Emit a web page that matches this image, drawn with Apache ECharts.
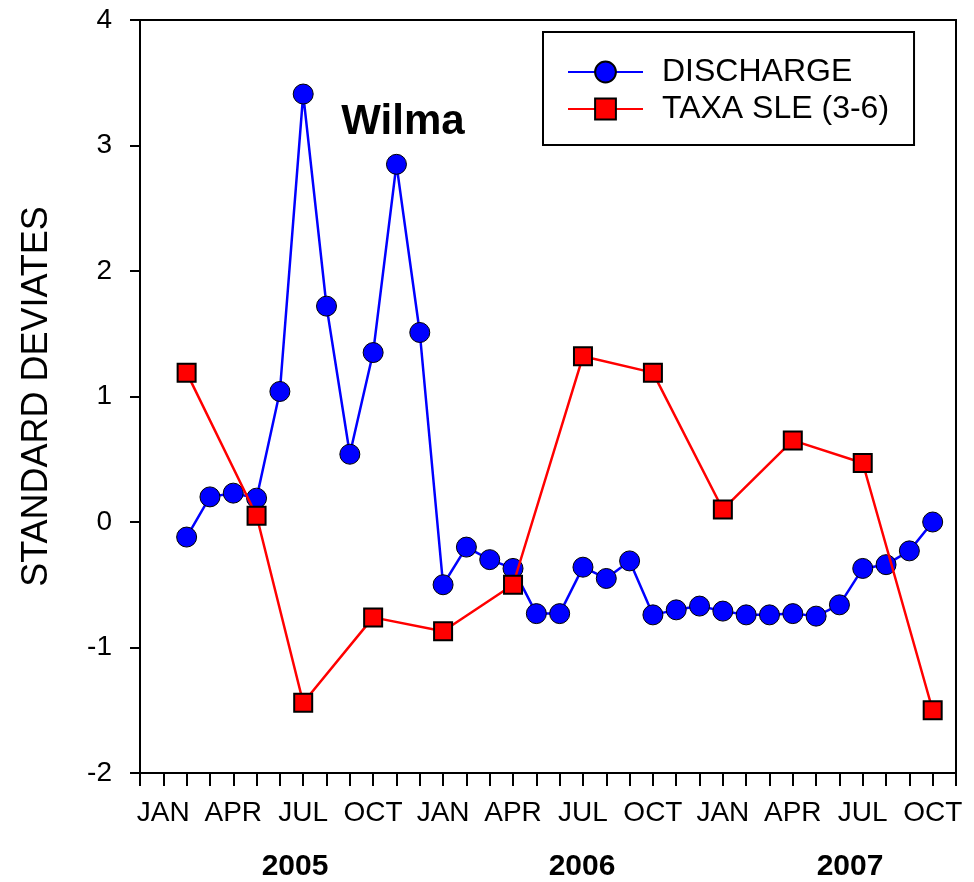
<!DOCTYPE html>
<html>
<head>
<meta charset="utf-8">
<script src="https://cdn.jsdelivr.net/npm/echarts@6/dist/echarts.min.js"></script>
<style>
  html, body { margin: 0; padding: 0; background: #fff; }
  #chart { width: 974px; height: 882px; }
</style>
</head>
<body>
<div id="chart"></div>
<script>
// Months on the axis: Dec 2004 .. Nov 2007
const categories = [
  '2004-12',
  '2005-01','2005-02','2005-03','2005-04','2005-05','2005-06','2005-07','2005-08','2005-09','2005-10','2005-11','2005-12',
  '2006-01','2006-02','2006-03','2006-04','2006-05','2006-06','2006-07','2006-08','2006-09','2006-10','2006-11','2006-12',
  '2007-01','2007-02','2007-03','2007-04','2007-05','2007-06','2007-07','2007-08','2007-09','2007-10','2007-11'
];
const monthTickLabels = { '01': 'JAN', '04': 'APR', '07': 'JUL', '10': 'OCT' };
const yearLabels = ['2005', '2006', '2007'];
const annotationText = 'Wilma';

// Standard deviates (null = no sample)
const discharge = [
  null,
  null, -0.12, 0.20, 0.23, 0.19, 1.04, 3.41, 1.72, 0.54, 1.35, 2.85, 1.51,
  -0.50, -0.20, -0.30, -0.37, -0.73, -0.73, -0.36, -0.45, -0.31, -0.74, -0.70, -0.67,
  -0.71, -0.74, -0.74, -0.73, -0.75, -0.66, -0.37, -0.34, -0.23, 0.00,
  null
];
const taxaSLE = [
  null,
  null, 1.19, null, null, 0.05, null, -1.44, null, null, -0.76, null, null,
  -0.87, null, null, -0.50, null, null, 1.32, null, null, 1.19, null, null,
  0.10, null, null, 0.65, null, null, 0.47, null, null, -1.50,
  null
];

const FONT = "'Liberation Sans', Arial, sans-serif";
const chart = echarts.init(document.getElementById('chart'), null, { renderer: 'canvas' });

chart.setOption({
  animation: false,
  backgroundColor: '#ffffff',
  grid: {
    left: 140, right: 18, top: 20, bottom: 109,
    show: true, borderColor: '#000', borderWidth: 2, backgroundColor: 'transparent'
  },
  legend: {
    orient: 'vertical',
    left: 543, top: 32,
    borderColor: '#000', borderWidth: 2, borderRadius: 0,
    padding: [24, 25, 20, 24],
    itemWidth: 75, itemHeight: 26, itemGap: 5,
    textStyle: { fontSize: 32, color: '#000', fontFamily: FONT, padding: [0, 0, 0, 14] },
    data: ['DISCHARGE', 'TAXA SLE (3-6)']
  },
  xAxis: {
    type: 'category',
    data: categories,
    boundaryGap: false,
    axisLine: { onZero: false, lineStyle: { color: '#000', width: 2 } },
    axisTick: { show: true, interval: 0, inside: false, length: 13, lineStyle: { color: '#000', width: 2 } },
    axisLabel: {
      interval: 0, margin: 26, fontSize: 28, color: '#000', fontFamily: FONT,
      formatter: function (v) { return monthTickLabels[v.slice(5)] || ''; }
    },
    splitLine: { show: false }
  },
  yAxis: {
    type: 'value',
    min: -2, max: 4, interval: 1,
    name: 'STANDARD DEVIATES',
    nameLocation: 'middle',
    nameRotate: 90,
    nameGap: 85,
    nameTextStyle: { fontSize: 36, color: '#000', fontFamily: FONT },
    axisLine: { show: true, lineStyle: { color: '#000', width: 2 } },
    axisTick: { show: true, inside: false, length: 10, lineStyle: { color: '#000', width: 2 } },
    axisLabel: { margin: 28, fontSize: 28, color: '#000', fontFamily: FONT },
    splitLine: { show: false }
  },
  graphic: [
    { type: 'text', x: 403, y: 122, style: { text: annotationText, font: 'bold 42px ' + FONT, fill: '#000', align: 'center', verticalAlign: 'middle' } },
    { type: 'text', x: 295, y: 867, style: { text: yearLabels[0], font: 'bold 30px ' + FONT, fill: '#000', align: 'center', verticalAlign: 'middle' } },
    { type: 'text', x: 582, y: 867, style: { text: yearLabels[1], font: 'bold 30px ' + FONT, fill: '#000', align: 'center', verticalAlign: 'middle' } },
    { type: 'text', x: 850, y: 867, style: { text: yearLabels[2], font: 'bold 30px ' + FONT, fill: '#000', align: 'center', verticalAlign: 'middle' } }
  ],
  series: [
    {
      name: 'DISCHARGE',
      type: 'line',
      data: discharge,
      connectNulls: false,
      symbol: 'circle',
      symbolSize: 20,
      showAllSymbol: true,
      lineStyle: { color: '#0000ff', width: 2.5 },
      itemStyle: { color: '#0000ff', borderColor: '#000', borderWidth: 1 },
      z: 2
    },
    {
      name: 'TAXA SLE (3-6)',
      type: 'line',
      data: taxaSLE,
      connectNulls: true,
      symbol: 'rect',
      symbolSize: 18,
      showAllSymbol: true,
      lineStyle: { color: '#ff0000', width: 2.5 },
      itemStyle: { color: '#ff0000', borderColor: '#000', borderWidth: 2 },
      z: 3
    }
  ]
});
</script>
</body>
</html>
